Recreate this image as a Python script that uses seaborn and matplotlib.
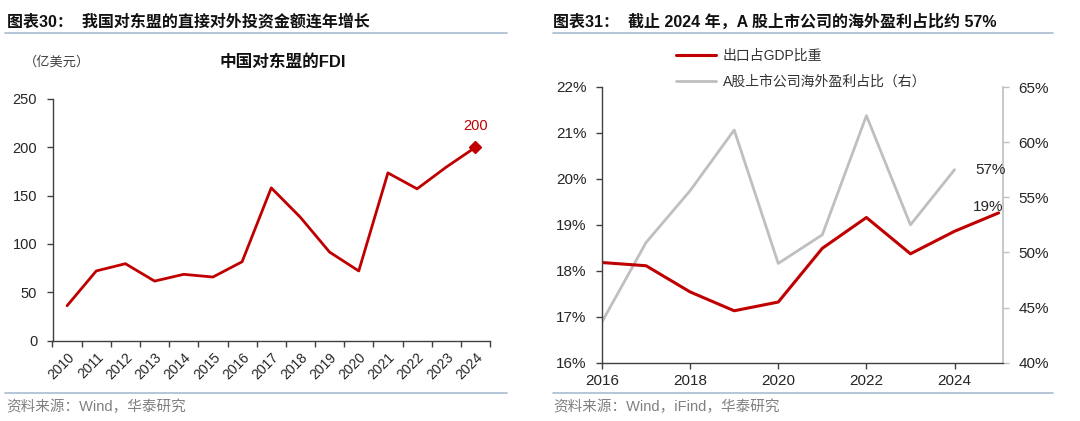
import numpy as np
import pandas as pd
import seaborn as sns
import matplotlib.pyplot as plt
from matplotlib.lines import Line2D
from matplotlib.ticker import FuncFormatter

# ---- data ----
fdi_years = ['2010', '2011', '2012', '2013', '2014', '2015', '2016', '2017',
             '2018', '2019', '2020', '2021', '2022', '2023', '2024']
fdi_values = [36, 72, 79.5, 61.5, 68.5, 65.7, 81.5, 158, 127.5, 91.5, 72, 173.5, 157, 179.5, 200]

export_years = [2016, 2017, 2018, 2019, 2020, 2021, 2022, 2023, 2024, 2025]
export_gdp = [0.1818, 0.1811, 0.1754, 0.1713, 0.1732, 0.1849, 0.1916, 0.1837, 0.1886, 0.1926]

profit_years = [2016, 2017, 2018, 2019, 2020, 2021, 2022, 2023, 2024]
overseas_profit = [0.437, 0.509, 0.556, 0.611, 0.490, 0.516, 0.624, 0.525, 0.575]

RED = '#C00000'
GRAY = '#BFBFBF'
TXT = '#262626'
RULE = '#A9BCD3'

sns.set_style('ticks')
plt.rcParams['font.family'] = ['Liberation Sans', 'Noto Sans CJK SC']
plt.rcParams['axes.unicode_minus'] = False

fig = plt.figure(figsize=(10.8, 4.21), dpi=100)

# ---- panel titles, rules, sources ----
fig.text(7 / 1080, 1 - 22 / 421, '图表30：  我国对东盟的直接对外投资金额连年增长',
         fontsize=11.5, fontweight='bold', color='#111111', va='center')
fig.text(553 / 1080, 1 - 22 / 421, '图表31：  截止 2024 年，A 股上市公司的海外盈利占比约 57%',
         fontsize=11.5, fontweight='bold', color='#111111', va='center')
for x0, x1 in [(5, 507), (553, 1053)]:
    for yy in (33, 393):
        fig.add_artist(Line2D([x0 / 1080, x1 / 1080], [1 - yy / 421] * 2,
                              color=RULE, lw=1.2, transform=fig.transFigure))
fig.text(6 / 1080, 1 - 407 / 421, '资料来源：Wind，华泰研究',
         fontsize=10.5, color='#808080', va='center')
fig.text(553 / 1080, 1 - 407 / 421, '资料来源：Wind，iFind，华泰研究',
         fontsize=10.5, color='#808080', va='center')

# ---- left chart: FDI ----
df_fdi = pd.DataFrame({'pos': np.arange(len(fdi_years)), 'fdi': fdi_values})
ax1 = fig.add_axes([52.5 / 1080, 1 - 340.5 / 421, (490 - 52.5) / 1080, (340.5 - 99) / 421])
sns.lineplot(data=df_fdi, x='pos', y='fdi', ax=ax1, color=RED, linewidth=2)
ax1.plot(df_fdi['pos'].iloc[-1], df_fdi['fdi'].iloc[-1], marker='D', color=RED,
         markersize=6.5, linestyle='none')
ax1.annotate(f"{fdi_values[-1]:.0f}", (df_fdi['pos'].iloc[-1], fdi_values[-1]),
             xytext=(0, 10), textcoords='offset points', ha='center', va='bottom',
             color=RED, fontsize=10.5)
ax1.set_xlim(-0.5, len(fdi_years) - 0.5)
ax1.set_ylim(0, 250)
ax1.set_yticks(np.arange(0, 251, 50))
ax1.set_xticks(np.arange(-0.5, len(fdi_years), 1))
ax1.set_xticklabels([])
ax1.set_xticks(np.arange(len(fdi_years)), minor=True)
ax1.set_xticklabels(fdi_years, minor=True, rotation=45, ha='right', va='top',
                    rotation_mode='anchor', fontsize=10, color=TXT)
ax1.tick_params(axis='x', which='minor', length=0, pad=7)
ax1.tick_params(axis='x', which='major', length=4, width=1, color='#404040')
ax1.tick_params(axis='y', length=4, width=1, color='#404040', labelsize=10.5,
                labelcolor=TXT, pad=7)
ax1.set_xlabel('')
ax1.set_ylabel('')
for s in ('top', 'right'):
    ax1.spines[s].set_visible(False)
for s in ('left', 'bottom'):
    ax1.spines[s].set_color('#404040')
    ax1.spines[s].set_linewidth(1)
fig.text(24 / 1080, 1 - 62 / 421, '（亿美元）', fontsize=9.5, color='#404040', va='center')
fig.text(283 / 1080, 1 - 62 / 421, '中国对东盟的FDI', fontsize=12, fontweight='bold',
         color='#111111', va='center', ha='center')

# ---- right chart: exports share & overseas profit share ----
df_exp = pd.DataFrame({'year': export_years, 'share': export_gdp})
df_prof = pd.DataFrame({'year': profit_years, 'share': overseas_profit})
ax2 = fig.add_axes([602 / 1080, 1 - 362.7 / 421, (1003 - 602) / 1080, (362.7 - 87) / 421])
ax3 = ax2.twinx()
sns.lineplot(data=df_prof, x='year', y='share', ax=ax3, color=GRAY, linewidth=2,
             label='A股上市公司海外盈利占比（右）', legend=False)
sns.lineplot(data=df_exp, x='year', y='share', ax=ax2, color=RED, linewidth=2.2,
             label='出口占GDP比重', legend=False)
ax2.set_zorder(ax3.get_zorder() + 1)
ax2.patch.set_visible(False)

pct = FuncFormatter(lambda v, _: f'{v * 100:.0f}%')
ax2.set_xlim(2016, 2025.1)
ax2.set_ylim(0.16, 0.22)
ax3.set_ylim(0.40, 0.65)
ax2.set_xticks([2016, 2018, 2020, 2022, 2024])
ax2.set_yticks(np.arange(0.16, 0.2201, 0.01))
ax3.set_yticks(np.arange(0.40, 0.6501, 0.05))
ax2.yaxis.set_major_formatter(pct)
ax3.yaxis.set_major_formatter(pct)
ax2.tick_params(axis='x', length=4, width=1, color='#404040', labelsize=11,
                labelcolor=TXT, pad=4)
ax2.tick_params(axis='y', length=4, width=1, color='#404040', labelsize=11,
                labelcolor=TXT, pad=7)
ax3.tick_params(axis='y', length=4, width=1, color=GRAY, labelsize=11,
                labelcolor=TXT, pad=7)
for a in (ax2, ax3):
    a.set_xlabel('')
    a.set_ylabel('')
    a.spines['top'].set_visible(False)
ax2.spines['right'].set_visible(False)
ax3.spines['left'].set_visible(False)
ax3.spines['bottom'].set_visible(False)
ax3.spines['right'].set_color(GRAY)
ax3.spines['right'].set_linewidth(1.2)
for s in ('left', 'bottom'):
    ax2.spines[s].set_color('#404040')
    ax2.spines[s].set_linewidth(1)

ax3.text(2024.82, 0.575, f'{overseas_profit[-1] * 100:.0f}%', ha='center', va='center',
         fontsize=11, color=TXT)
ax2.text(2024.77, 0.1939, f'{round(export_gdp[-1] * 100):.0f}%', ha='center', va='center',
         fontsize=11, color=TXT)

handles = ax2.get_lines()[:1] + ax3.get_lines()[:1]
fig.legend(handles=handles, labels=[h.get_label() for h in handles],
           loc='upper left', bbox_to_anchor=(676 / 1080, 1 - 49 / 421),
           frameon=False, fontsize=10, handlelength=2.9, handletextpad=0.45,
           labelspacing=0.85, borderpad=0, borderaxespad=0, labelcolor='#333333')

fig.savefig('out.png', dpi=100)
